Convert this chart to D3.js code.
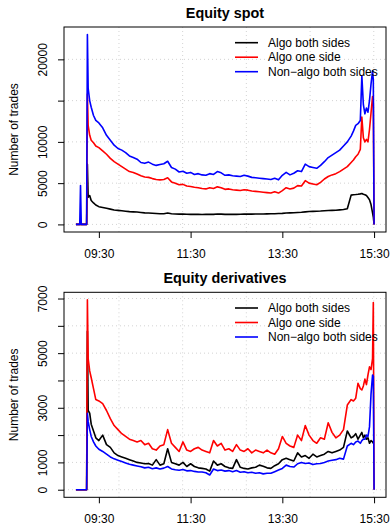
<!DOCTYPE html>
<html>
<head>
<meta charset="utf-8">
<script src="https://cdn.jsdelivr.net/npm/d3@7"></script>
<style>
  body { margin: 0; background: #fff; }
  svg { font-family: "Liberation Sans", Arial, sans-serif; }
</style>
</head>
<body>
<div id="chart"></div>
<script>
// minute-of-day sample points, shared by every series
const times = [
  "09:00", "09:05", "09:06", "09:07", "09:08", "09:14",
  "09:15", "09:16", "09:18", "09:20", "09:23", "09:26",
  "09:30", "09:35", "09:40", "09:45", "09:50", "09:55",
  "10:00", "10:05", "10:10", "10:15", "10:20", "10:25", "10:30", "10:35", "10:40", "10:45", "10:50", "10:55",
  "11:00", "11:05", "11:10", "11:15", "11:20", "11:25", "11:30", "11:35", "11:40", "11:45", "11:50", "11:55",
  "12:00", "12:05", "12:10", "12:15", "12:20", "12:25", "12:30", "12:35", "12:40", "12:45", "12:50", "12:55",
  "13:00", "13:05", "13:10", "13:15", "13:20", "13:25", "13:30", "13:35", "13:40", "13:45", "13:50", "13:55",
  "14:00", "14:05", "14:10", "14:15", "14:20", "14:25", "14:30", "14:35", "14:40", "14:45", "14:50", "14:55",
  "15:00",
  "15:03", "15:06", "15:09", "15:12", "15:14", "15:16", "15:18", "15:20", "15:22", "15:24", "15:26", "15:28", "15:29", "15:30"
];

// Equity spot
const spotAlgoBoth = [
  0, 0, 0, 0, 0, 0,
  7300, 3300, 3500, 2900, 2600, 2350,
  2150, 2050, 1950, 1850, 1750, 1700,
  1650, 1600, 1550, 1520, 1500, 1450, 1400, 1380, 1350, 1320, 1300, 1300,
  1380, 1300, 1260, 1250, 1240, 1230, 1220, 1210, 1220, 1200, 1210, 1230,
  1220, 1260, 1240, 1220, 1230, 1220, 1220, 1230, 1250, 1240, 1250, 1260,
  1260, 1270, 1280, 1290, 1300, 1320, 1340, 1380, 1400, 1420, 1450, 1470,
  1520, 1560, 1580, 1600, 1620, 1660, 1680, 1700, 1720, 1760, 1800, 1900,
  3550,
  3600, 3620, 3650, 3700, 3750, 3650, 3600, 3500, 3250, 3000, 2400, 1400, 900, 0
];
const spotAlgoOne = [
  0, 0, 0, 0, 0, 0,
  15800, 12000, 10800, 10200, 9900, 9500,
  9300, 8900, 8500, 8000, 7600, 7300,
  7000, 6700, 6400, 6300, 6100, 5900, 5750, 5700, 5550, 5450, 5400, 5450,
  5650, 5150, 5000, 4800, 4850, 4650, 4600, 4500, 4450, 4350, 4300, 4450,
  4350, 4550, 4450, 4250, 4300, 4200, 4150, 4100, 4200, 4150, 4050, 4000,
  3950, 3900, 3850, 3800, 3950, 3800, 4100, 4450, 4300, 4400, 4700, 4650,
  5300, 5000, 4900, 4800, 5100, 5500, 5800, 6000, 6150, 6400, 6700, 7000,
  7500,
  7800, 8200, 8500, 9100, 13000, 10500, 10000, 10300, 10000, 11500, 13500, 15500, 14500, 0
];
const spotNonAlgo = [
  0, 0, 4700, 0, 0, 0,
  23000, 16500, 15000, 14200, 13200, 12600,
  12300, 11700, 10800, 10200, 9600, 9200,
  9000, 8700, 8300, 8100, 7900, 7500, 7400, 7550, 7300, 7150, 7250, 7350,
  7650, 6900, 6700, 6350, 6450, 6200, 6300, 6050, 6150, 6000, 5950, 6150,
  6050, 6400, 6250, 5950, 6000, 5900, 5850, 5800, 5950, 5850, 5700, 5650,
  5600, 5550, 5500, 5450, 5600, 5400, 5950, 6300, 6000, 6200, 6500, 6400,
  7300, 7000, 6900, 6800, 7150, 7600, 8100, 8400, 8700, 9000, 9500, 10000,
  10700,
  11300, 12000, 12200, 12600, 18000, 14500, 13400, 14100, 13600, 15000, 17000, 18600, 17500, 0
];

// Equity derivatives
const derivAlgoBoth = [
  0, 0, 0, 0, 0, 0,
  5800, 2900, 2800, 2400, 2150, 1900,
  1800, 2000, 1650, 1550, 1350, 1250,
  1200, 1150, 1100, 1050, 1000, 980, 950, 960, 900, 1100, 900, 950,
  1500, 1000, 950, 900, 1000, 850, 950, 850, 800, 780, 760, 680,
  1050, 900, 950, 850, 800, 780, 1100, 820, 780, 760, 800, 820,
  900, 860, 800, 780, 880, 950, 1100, 1150, 1100, 1050, 1350, 1200,
  1250, 1150, 1300, 1200, 1250, 1300, 1400, 1350, 1400, 1450, 1550, 2150,
  1900,
  1950, 2050, 1850, 2000, 2100, 1900, 2000, 1850, 1900, 1700, 1800, 1750, 1700, null
];
const derivAlgoOne = [
  0, 0, 0, 0, 0, 0,
  6950, 4800, 4350, 4100, 3700, 3300,
  3250, 3150, 2900, 2600, 2350, 2200,
  2050, 1950, 1850, 1800, 1750, 1800, 1650, 1700, 1500, 1450, 1600, 1650,
  2200, 1700, 1550, 1400, 1750, 1450, 1400, 1500, 1550, 1450, 1400, 1350,
  1800, 1600, 1700, 1450, 1500, 1400, 1650, 1450, 1400, 1500, 1350, 1450,
  1400, 1350, 1450, 1350, 1300, 1500, 1950, 1700, 1600, 1550, 2000, 1800,
  2350, 2000, 1800, 1700, 1900, 1850, 2450, 2100, 1900, 2000, 2200, 3100,
  3300,
  3250, 3350, 3900, 3700, 3650, 3800, 4050, 3850, 4200, 4500, 4400, 4800, 6850, 0
];
const derivNonAlgo = [
  0, 0, 0, 0, 0, 0,
  2800, 2500, 2200, 1950, 1750, 1600,
  1480, 1400, 1300, 1200, 1130, 1080,
  1030, 980, 930, 900, 870, 840, 800, 820, 770, 800, 760, 790,
  850, 760, 730, 710, 740, 690, 700, 670, 650, 650, 620, 540,
  760, 700, 720, 680, 700, 660, 700, 640, 660, 620, 640, 600,
  620, 580, 600, 600, 660, 720, 780, 900, 850, 830, 950, 1000,
  960, 980, 920, 950, 960, 1000, 1050, 1080, 1100, 1150, 1120, 1600,
  1700,
  1650, 1750, 1780, 1700, 1800, 1850, 1850, 2000, 1950, 2300, 3500, 4200, 4150, 0
];

const seriesNames = ["Algo both sides", "Algo one side", "Non\u2212algo both sides"];
const seriesColors = ["#000000", "#ff0000", "#0000ff"];

const xTickLabels = ["09:30", "11:30", "13:30", "15:30"];
// vertical grid follows the numeric (5000 s) pretty breaks, in minutes
const gridMinutes = [596.3, 679.6, 762.9, 846.3, 929.6];

const spotTicks = [0, 5000, 10000, 15000, 20000];
const spotTickLabels = ["0", "5000", "10000", "", "20000"];
const derivTicks = [0, 1000, 2000, 3000, 4000, 5000, 6000, 7000];
const derivTickLabels = ["0", "1000", "", "3000", "", "5000", "", "7000"];

const width = 391, height = 526;
const plotLeft = 64, plotRight = 386, plotHeight = 205;

const toMin = s => {
  const [h, m] = s.split(":").map(Number);
  return h * 60 + m;
};

const svg = d3.select("#chart")
  .append("svg")
  .attr("width", width)
  .attr("height", height);

const minutes = times.map(toMin);
const tExt = d3.extent(minutes);
const tPad = (tExt[1] - tExt[0]) * 0.04;
const x = d3.scaleLinear()
  .domain([tExt[0] - tPad, tExt[1] + tPad])
  .range([plotLeft, plotRight]);

function drawPanel(top, title, series, ticks, tickLabels) {
  const yMax = d3.max(series.flat());
  const y = d3.scaleLinear()
    .domain([-0.04 * yMax, 1.04 * yMax])
    .range([top + plotHeight, top]);
  const g = svg.append("g");

  // dotted grid
  g.selectAll(".hgrid")
    .data(ticks)
    .join("line")
    .attr("x1", plotLeft).attr("x2", plotRight)
    .attr("y1", d => y(d)).attr("y2", d => y(d))
    .style("stroke", "#d3d3d3")
    .style("stroke-dasharray", "1,3");
  g.selectAll(".vgrid")
    .data(gridMinutes)
    .join("line")
    .attr("x1", d => x(d)).attr("x2", d => x(d))
    .attr("y1", top).attr("y2", top + plotHeight)
    .style("stroke", "#d3d3d3")
    .style("stroke-dasharray", "1,3");

  const line = d3.line()
    .defined(d => d[1] != null)
    .x(d => x(d[0]))
    .y(d => y(d[1]));

  series.forEach((vals, i) => {
    g.append("path")
      .datum(minutes.map((m, j) => [m, vals[j]]))
      .attr("d", line)
      .style("fill", "none")
      .style("stroke", seriesColors[i])
      .style("stroke-width", "1.6px")
      .style("stroke-linejoin", "round");
  });

  // box
  g.append("rect")
    .attr("x", plotLeft).attr("y", top)
    .attr("width", plotRight - plotLeft).attr("height", plotHeight)
    .style("fill", "none")
    .style("stroke", "#000")
    .style("stroke-width", "1px");

  // y axis
  g.append("g")
    .attr("transform", "translate(" + plotLeft + ",0)")
    .call(d3.axisLeft(y).tickValues(ticks).tickFormat((d, i) => tickLabels[i]).tickSize(6).tickSizeOuter(0))
    .call(a => a.select(".domain").remove())
    .call(a => a.attr("font-size", 12).attr("font-family", null))
    .call(a => a.selectAll("text")
      .attr("transform", "rotate(-90)")
      .attr("x", 0).attr("y", -17).attr("dy", null)
      .attr("text-anchor", "middle"));

  // x axis
  g.append("g")
    .attr("transform", "translate(0," + (top + plotHeight) + ")")
    .call(d3.axisBottom(x).tickValues(xTickLabels.map(toMin)).tickFormat((d, i) => xTickLabels[i]).tickSize(6).tickSizeOuter(0))
    .call(a => a.select(".domain").remove())
    .call(a => a.attr("font-size", 12).attr("font-family", null))
    .call(a => a.selectAll("text").attr("y", 17));

  g.append("text")
    .attr("x", (plotLeft + plotRight) / 2)
    .attr("y", top - 9)
    .attr("text-anchor", "middle")
    .style("font-weight", "bold")
    .style("font-size", "14.4px")
    .text(title);

  g.append("text")
    .attr("transform", "translate(18," + (top + plotHeight / 2) + ") rotate(-90)")
    .attr("text-anchor", "middle")
    .style("font-size", "12px")
    .text("Number of trades");

  // legend
  const leg = g.selectAll(".legend")
    .data(seriesNames)
    .join("g")
    .attr("transform", (d, i) => "translate(0," + (top + 15.7 + i * 14.5) + ")");
  leg.append("line")
    .attr("x1", 235).attr("x2", 258)
    .style("stroke", (d, i) => seriesColors[i])
    .style("stroke-width", "1.6px");
  leg.append("text")
    .attr("x", 268)
    .attr("dy", "0.35em")
    .style("font-size", "12px")
    .text(d => d);
}

drawPanel(27, "Equity spot", [spotAlgoBoth, spotAlgoOne, spotNonAlgo], spotTicks, spotTickLabels);
drawPanel(292.3, "Equity derivatives", [derivAlgoBoth, derivAlgoOne, derivNonAlgo], derivTicks, derivTickLabels);
</script>
</body>
</html>
